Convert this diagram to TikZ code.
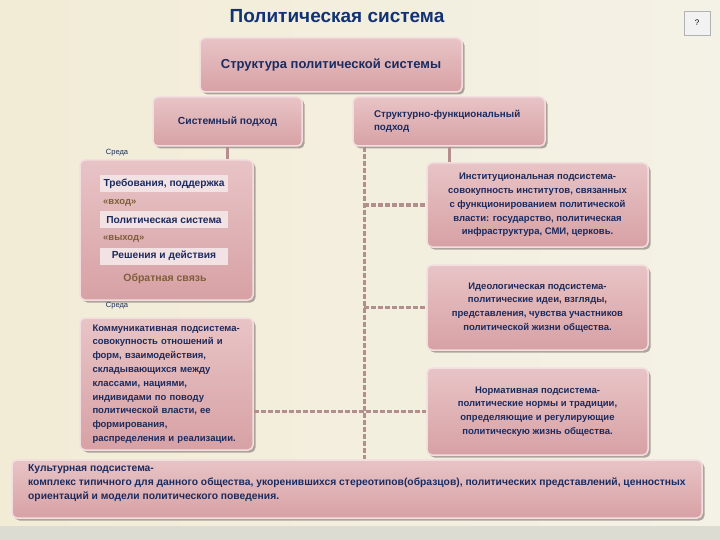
\documentclass[tikz,border=0pt]{standalone}
\usepackage{fontspec}
\setmainfont{Liberation Sans}
\usetikzlibrary{shadows}

\definecolor{bgleft}{HTML}{F2ECD6}
\definecolor{bgright}{HTML}{F4F1E6}
\definecolor{bgband}{HTML}{DCDCD2}
\definecolor{boxtop}{HTML}{E8C4C6}
\definecolor{boxbot}{HTML}{D7A1A5}
\definecolor{boxedge}{HTML}{F3DEDF}
\definecolor{shadowgray}{HTML}{8F8580}
\definecolor{navytext}{HTML}{1C2B5E}
\definecolor{titleblue}{HTML}{123273}
\definecolor{browntext}{HTML}{7E5E3A}
\definecolor{stripfill}{HTML}{F3E2E3}
\definecolor{linkcol}{HTML}{B38E8C}

\begin{document}
\begin{tikzpicture}[x=1pt,y=-1pt]
        \tikzstyle{every node} = [font=\fontsize{9.5}{13.8}\selectfont\bfseries, text=navytext, inner sep=0pt]
        \tikzstyle{box} = [rectangle, rounded corners=5pt, draw=boxedge, line width=1.5pt,
                           top color=boxtop, bottom color=boxbot,
                           drop shadow={shadow xshift=2.5pt, shadow yshift=-2.5pt, fill=shadowgray, opacity=0.7}]
        \tikzstyle{strip} = [fill=stripfill, minimum width=128pt, minimum height=17pt, font=\fontsize{10.2}{12}\selectfont\bfseries]
        \tikzstyle{tag} = [anchor=west, text=browntext, font=\fontsize{9.5}{11}\selectfont\bfseries]
        \tikzstyle{env} = [font=\fontsize{7.5}{8}\selectfont]
        \tikzstyle{link} = [draw=linkcol, line width=3pt]
        \tikzstyle{dashlink} = [draw=linkcol, line width=3.5pt, dash pattern=on 5pt off 2pt]
            \useasboundingbox (0,0) rectangle (720,540);
            % background
            \shade[left color=bgleft, right color=bgright] (0,0) rectangle (720,540);
            \fill[bgband] (0,526) rectangle (720,540);

            \node[font=\fontsize{19}{21}\selectfont\bfseries, text=titleblue] (title) at (337,16) {Политическая система};
            \node[draw=gray!60, fill=gray!10, minimum width=26pt, minimum height=24pt, font=\fontsize{8}{9}\selectfont, text=black] (help) at (697,23) {?};

            % top
            \node[box, minimum width=262pt, minimum height=54pt, font=\fontsize{13}{15}\selectfont\bfseries] (struct) at (331,65) {Структура политической системы};
            \node[box, minimum width=149pt, minimum height=49pt, font=\fontsize{10.3}{12}\selectfont\bfseries] (syst) at (227.5,121.5) {Системный подход};
            \node[box, minimum width=192pt, minimum height=49pt, text width=150pt, align=left, font=\fontsize{9.8}{13}\selectfont\bfseries] (strf) at (449,121.5) {Структурно-функциональный\\подход};

            % systems approach
            \node[env] (env1) at (117,153) {Среда};
            \node[box, minimum width=173pt, minimum height=140pt] (sysbox) at (166.5,230) {};
            \node[strip] (input) at (164,184) {Требования, поддержка};
            \node[tag] (intag) at (103,203) {«вход»};
            \node[strip] (polsys) at (164,220) {Политическая система};
            \node[tag] (outtag) at (103,239) {«выход»};
            \node[strip] (output) at (164,256) {Решения и действия};
            \node[text=browntext, font=\fontsize{10.5}{12}\selectfont\bfseries] (feedback) at (165,279) {Обратная связь};
            \node[env] (env2) at (117,306) {Среда};

            % subsystems
            \node[box, minimum width=173pt, minimum height=132pt, text width=148pt, align=left] (comm) at (166.5,384) {Коммуникативная подсистема-\\совокупность отношений и\\форм, взаимодействия,\\складывающихся между\\классами, нациями,\\индивидами по поводу\\политической власти, ее\\формирования,\\распределения и реализации.};
            \node[box, minimum width=221pt, minimum height=84pt, align=center] (inst) at (537.5,205) {Институциональная подсистема-\\совокупность институтов, связанных\\с функционированием политической\\власти: государство, политическая\\инфраструктура, СМИ, церковь.};
            \node[box, minimum width=221pt, minimum height=85pt, align=center] (ideo) at (537.5,307.5) {Идеологическая подсистема-\\политические идеи, взгляды,\\представления, чувства участников\\политической жизни общества.};
            \node[box, minimum width=221pt, minimum height=87pt, align=center] (norm) at (537.5,411.5) {Нормативная подсистема-\\политические нормы и традиции,\\определяющие и регулирующие\\политическую жизнь общества.};
            \node[box, minimum width=690pt, minimum height=58pt] (cult) at (357,489) {};
            \node[anchor=north west, align=left, font=\fontsize{10.3}{14}\selectfont\bfseries] (culttext) at (28,464) {Культурная подсистема-\\комплекс типичного для данного общества, укоренившихся стереотипов(образцов), политических представлений, ценностных\\ориентаций и модели политического поведения.};

            % connectors
            \draw[link] (syst.south) -- (syst.south |- sysbox.north);
            \draw[link] (strf.south) -- (strf.south |- inst.north);
            \coordinate (trunk) at ([xshift=12pt]strf.south west);
            \draw[dashlink] (trunk) -- (trunk |- cult.north);
            \foreach \sub in {inst,ideo}{
                \draw[dashlink] (trunk |- \sub.west) -- (\sub.west);
            }
            \draw[dashlink] (comm.east |- norm.west) -- (norm.west);
         \end{tikzpicture}
\end{document}
